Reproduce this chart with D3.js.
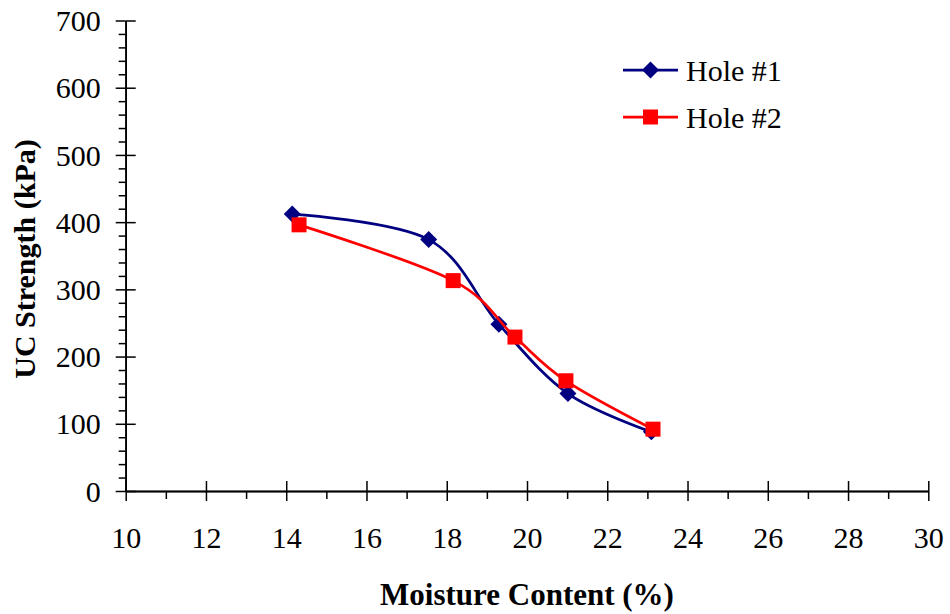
<!DOCTYPE html>
<html>
<head>
<meta charset="utf-8">
<script src="https://cdn.jsdelivr.net/npm/d3@7"></script>
<style>
  body { margin: 0; background: #fff; }
  svg, svg text { font-family: "Liberation Serif", "Times New Roman", serif; }
</style>
</head>
<body>
<svg width="950" height="614"></svg>
<script>
// data
var seriesNames = ["Hole #1", "Hole #2"];
var hole1Moisture = [14.15, 17.55, 19.3, 21.02, 23.1];
var hole1Strength = [412, 374, 248, 145, 88];
var hole2Moisture = [14.32, 18.16, 19.7, 20.97, 23.14];
var hole2Strength = [396, 313, 229, 164, 92];
var xMajor = [10, 12, 14, 16, 18, 20, 22, 24, 26, 28, 30];
var xMinor = [11, 13, 15, 17, 19, 21, 23, 25, 27, 29];
var yMajor = [0, 100, 200, 300, 400, 500, 600, 700];
var yMinor = [20, 40, 60, 80, 120, 140, 160, 180, 220, 240, 260, 280, 320, 340, 360, 380,
              420, 440, 460, 480, 520, 540, 560, 580, 620, 640, 660, 680];

var svg = d3.select("svg");
var plotL = 125.7, plotR = 928.3, plotT = 20.5, plotB = 491;

var x = d3.scaleLinear().domain([10, 30]).range([plotL, plotR]);
var y = d3.scaleLinear().domain([0, 700]).range([plotB, plotT]);

function styleAxis(g) {
  g.selectAll("path, line").attr("stroke", "#000").attr("stroke-width", 1.5);
  g.selectAll("text").attr("font-size", 30).attr("fill", "#000")
    .attr("font-family", "'Liberation Serif', 'Times New Roman', serif");
}

// y axis
svg.append("g").attr("transform", "translate(" + plotL + ",0)")
  .call(d3.axisLeft(y).tickValues(yMinor).tickSize(7).tickSizeOuter(0).tickFormat(""))
  .call(styleAxis);
svg.append("g").attr("transform", "translate(" + plotL + ",0)")
  .call(d3.axisRight(y).tickValues(yMajor).tickSize(10).tickSizeOuter(0).tickFormat(""))
  .call(styleAxis);
svg.append("g").attr("transform", "translate(" + plotL + ",0)")
  .call(d3.axisLeft(y).tickValues(yMajor).tickSize(10).tickSizeOuter(0).tickPadding(15).tickFormat(d3.format("d")))
  .call(styleAxis)
  .selectAll("text").attr("dy", "0.34em");

// x axis
svg.append("g").attr("transform", "translate(0," + plotB + ")")
  .call(d3.axisBottom(x).tickValues(xMinor).tickSize(8).tickSizeOuter(0).tickFormat(""))
  .call(styleAxis);
svg.append("g").attr("transform", "translate(0," + plotB + ")")
  .call(d3.axisTop(x).tickValues(xMajor).tickSize(10).tickSizeOuter(0).tickFormat(""))
  .call(styleAxis);
svg.append("g").attr("transform", "translate(0," + plotB + ")")
  .call(d3.axisBottom(x).tickValues(xMajor).tickSize(10).tickSizeOuter(0).tickPadding(26).tickFormat(d3.format("d")))
  .call(styleAxis);

// axis titles
svg.append("text")
  .attr("x", (plotL + plotR) / 2).attr("y", 605)
  .attr("text-anchor", "middle")
  .attr("font-size", 31).attr("font-weight", "bold")
  .text("Moisture Content (%)");
svg.append("text")
  .attr("transform", "translate(35,259) rotate(-90)")
  .attr("text-anchor", "middle")
  .attr("font-size", 30).attr("font-weight", "bold")
  .text("UC Strength (kPa)");

var series = [
  { name: seriesNames[0], xs: hole1Moisture, ys: hole1Strength, color: "#000080", shape: "diamond" },
  { name: seriesNames[1], xs: hole2Moisture, ys: hole2Strength, color: "#ff0000", shape: "square" }
];

var line = d3.line()
  .x(function(d) { return x(d[0]); })
  .y(function(d) { return y(d[1]); })
  .curve(d3.curveCatmullRom.alpha(0));

function marker(g, shape, color, cx, cy) {
  if (shape == "diamond") {
    g.append("path")
      .attr("d", "M0,-8.5L8.5,0L0,8.5L-8.5,0Z")
      .attr("transform", "translate(" + cx + "," + cy + ")")
      .attr("fill", color);
  } else {
    g.append("rect")
      .attr("x", cx - 7.5).attr("y", cy - 7.5)
      .attr("width", 15).attr("height", 15)
      .attr("fill", color);
  }
}

series.forEach(function(s, i) {
  var pts = s.xs.map(function(v, k) { return [v, s.ys[k]]; });
  var g = svg.append("g");
  g.append("path")
    .attr("d", line(pts))
    .attr("fill", "none")
    .attr("stroke", s.color)
    .attr("stroke-width", 2.75);
  pts.forEach(function(p) { marker(g, s.shape, s.color, x(p[0]), y(p[1])); });

  // legend
  var ly = 70 + 47 * i;
  var lg = svg.append("g");
  lg.append("line")
    .attr("x1", 623).attr("x2", 678).attr("y1", ly).attr("y2", ly)
    .attr("stroke", s.color).attr("stroke-width", 2.75);
  marker(lg, s.shape, s.color, 650.5, ly);
  lg.append("text")
    .attr("x", 686).attr("y", ly + 10.5)
    .attr("font-size", 30)
    .text(s.name);
});
</script>
</body>
</html>
